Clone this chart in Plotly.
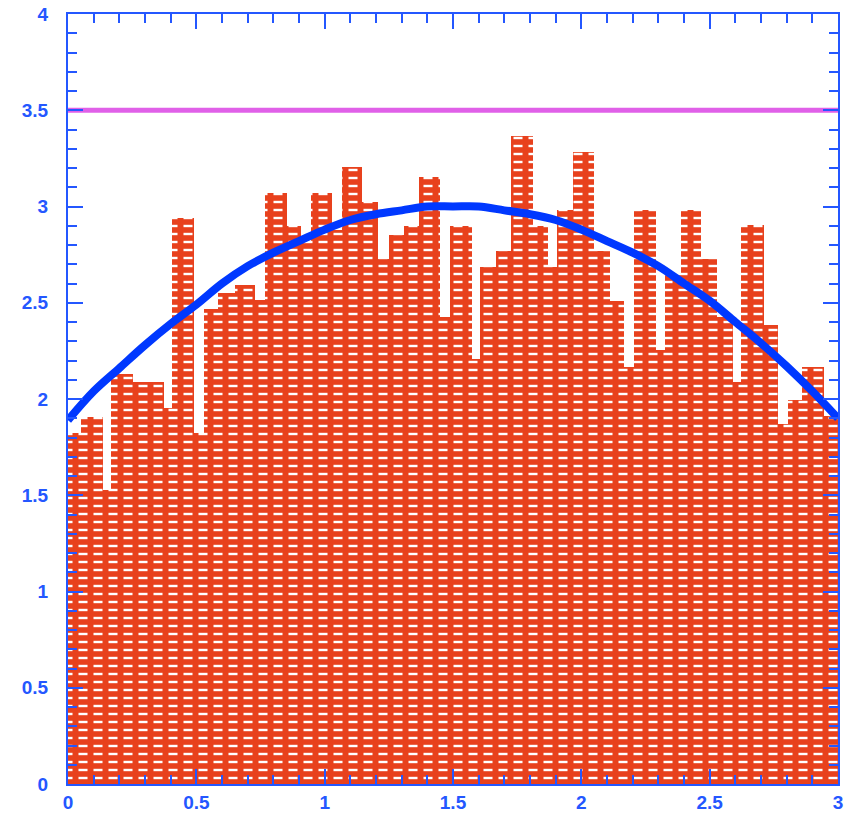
import plotly.graph_objects as go

# ---------------- data ----------------
bin_edges = [0.000, 0.049, 0.136, 0.169, 0.253, 0.313, 0.373, 0.407, 0.491, 0.530,
             0.584, 0.650, 0.727, 0.769, 0.853, 0.909, 0.948, 1.029, 1.068, 1.147,
             1.209, 1.250, 1.308, 1.368, 1.448, 1.487, 1.573, 1.607, 1.669, 1.725,
             1.812, 1.871, 1.906, 1.968, 2.048, 2.111, 2.166, 2.206, 2.292, 2.325,
             2.387, 2.465, 2.529, 2.591, 2.624, 2.711, 2.766, 2.805, 2.861, 2.946, 3.000]
bin_counts = [1.825, 1.908, 1.527, 2.128, 2.087, 2.087, 1.952, 2.942, 1.825, 2.469,
              2.550, 2.594, 2.513, 3.068, 2.900, 2.812, 3.068, 2.880, 3.203, 3.025,
              2.726, 2.851, 2.899, 3.151, 2.428, 2.899, 2.209, 2.685, 2.767, 3.368,
              2.899, 2.686, 2.982, 3.285, 2.767, 2.509, 2.168, 2.982, 2.253, 2.643,
              2.982, 2.725, 2.428, 2.087, 2.902, 2.384, 1.868, 1.993, 2.168, 1.912]

curve_x = [0.0, 0.1, 0.2, 0.3, 0.4, 0.5, 0.6, 0.7, 0.8, 0.9, 1.0, 1.1, 1.2, 1.3, 1.4, 1.5,
           1.6, 1.7, 1.8, 1.9, 2.0, 2.1, 2.2, 2.3, 2.4, 2.5, 2.6, 2.7, 2.8, 2.9, 3.0]
curve_y = [1.89, 2.04, 2.16, 2.28, 2.39, 2.49, 2.60, 2.69, 2.76, 2.82, 2.88, 2.93, 2.96, 2.98, 3.00, 3.00,
           3.00, 2.98, 2.96, 2.93, 2.88, 2.82, 2.76, 2.69, 2.60, 2.51, 2.40, 2.29, 2.17, 2.04, 1.90]

level_x = [0.0, 3.0]
level_y = [3.5, 3.5]

x_ticks = [0, 0.5, 1, 1.5, 2, 2.5, 3]
x_labels = ["0", "0.5", "1", "1.5", "2", "2.5", "3"]
y_ticks = [0, 0.5, 1, 1.5, 2, 2.5, 3, 3.5, 4]
y_labels = ["0", "0.5", "1", "1.5", "2", "2.5", "3", "3.5", "4"]

# ---------------- styles ----------------
RED = "#E8411D"
AXIS_BLUE = "#2457FF"
CURVE_BLUE = "#0038FF"
MAGENTA = "#E060E8"

centers = [(a + b) / 2 for a, b in zip(bin_edges[:-1], bin_edges[1:])]
widths = [b - a for a, b in zip(bin_edges[:-1], bin_edges[1:])]

fig = go.Figure()

# base bars: red with white horizontal lines
fig.add_trace(go.Bar(
    x=centers, y=bin_counts, width=widths,
    marker=dict(color=RED, line=dict(width=0),
                pattern=dict(shape="-", bgcolor=RED, fgcolor="white",
                             size=8, solidity=0.3, fillmode="replace")),
    hoverinfo="skip", showlegend=False,
))
# overlay: red vertical stripes break the white lines into dashes
fig.add_trace(go.Bar(
    x=centers, y=bin_counts, width=widths,
    marker=dict(color="rgba(0,0,0,0)", line=dict(width=0),
                pattern=dict(shape="|", fgcolor=RED, fgopacity=1,
                             size=15, solidity=0.4, fillmode="overlay")),
    hoverinfo="skip", showlegend=False,
))

fig.add_trace(go.Scatter(
    x=curve_x, y=curve_y, mode="lines",
    line=dict(color=CURVE_BLUE, width=8, shape="spline"),
    hoverinfo="skip", showlegend=False,
))

fig.add_trace(go.Scatter(
    x=level_x, y=level_y, mode="lines",
    line=dict(color=MAGENTA, width=5),
    hoverinfo="skip", showlegend=False,
))

tickfont = dict(family="Liberation Sans, Arial, sans-serif", size=19, color=AXIS_BLUE, weight="bold")

fig.update_layout(
    width=848, height=813,
    margin=dict(l=68, r=10, t=14, b=29, pad=0, autoexpand=False),
    paper_bgcolor="white", plot_bgcolor="white",
    barmode="overlay", bargap=0,
    xaxis=dict(
        range=[0, 3], tickvals=x_ticks, ticktext=x_labels, automargin=False,
        showgrid=False, zeroline=False,
        showline=True, linecolor=AXIS_BLUE, linewidth=2, mirror="ticks",
        ticks="inside", ticklen=15, tickwidth=2, tickcolor=AXIS_BLUE,
        minor=dict(dtick=0.1, ticks="inside", ticklen=9, tickwidth=2, tickcolor=AXIS_BLUE, showgrid=False),
        tickfont=tickfont, ticklabelstandoff=0,
    ),
    yaxis=dict(
        range=[0, 4], tickvals=y_ticks, ticktext=y_labels, automargin=False,
        showgrid=False, zeroline=False,
        showline=True, linecolor=AXIS_BLUE, linewidth=2, mirror="ticks",
        ticks="inside", ticklen=15, tickwidth=2, tickcolor=AXIS_BLUE,
        minor=dict(dtick=0.1, ticks="inside", ticklen=9, tickwidth=2, tickcolor=AXIS_BLUE, showgrid=False),
        tickfont=tickfont, ticklabelstandoff=14,
    ),
)

fig.write_html("out.html")
